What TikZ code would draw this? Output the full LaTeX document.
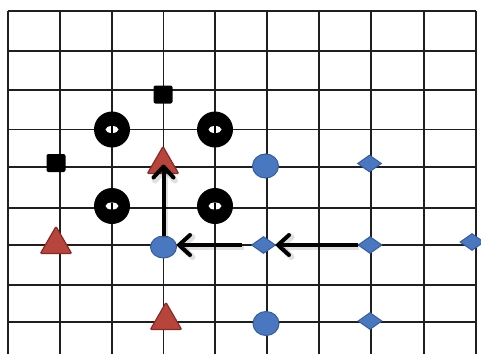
\documentclass[tikz,border=0pt]{standalone}
\usetikzlibrary{shapes.geometric,arrows.meta}
\definecolor{tri}{RGB}{184,69,60}
\definecolor{triedge}{RGB}{135,42,38}
\definecolor{blu}{RGB}{74,120,192}
\definecolor{bluedge}{RGB}{52,92,158}
\begin{document}
\begin{tikzpicture}[x=1pt,y=-1pt,
  gridline/.style={line width=1.8pt, black!88},
  sq/.style={fill=black, rounded corners=2pt, minimum width=19pt, minimum height=18pt, inner sep=0pt},
  ring/.style={circle, fill=black, minimum size=36pt, inner sep=0pt},
  hole/.style={ellipse, fill=white, minimum width=13pt, minimum height=7pt, inner sep=0pt},
  tria/.style={regular polygon, regular polygon sides=3, fill=tri, draw=triedge, line width=1.2pt, minimum size=36pt, inner sep=0pt, rounded corners=1pt},
  bcirc/.style={ellipse, fill=blu, draw=bluedge, line width=1pt, minimum width=26pt, minimum height=22pt, inner sep=0pt},
  bdia/.style={diamond, fill=blu, draw=bluedge, line width=1pt, minimum width=24pt, minimum height=17pt, inner sep=0pt},
  arr/.style={line width=4pt, black, -{Straight Barb[length=11pt,width=20pt,round]}},
  arrshadow/.style={line width=6pt, black, opacity=0.12, -{Straight Barb[length=11pt,width=20pt,round]}}
]
\useasboundingbox (0,0) rectangle (481,354);
\fill[white] (0,0) rectangle (481,354);
% grid
\foreach \x in {8,60,112,163.5,215,267,319,371,424,476}
  \draw[gridline] (\x,11) -- (\x,354);
\foreach \y in {11,51,90,129.5,167,208,245,285,322}
  \draw[gridline] (8,\y) -- (476,\y);
% squares
\node[sq] (s1) at (163,94.5) {};
\node[sq] (s2) at (56,163) {};
% rings
\foreach \n/\p in {r1/{(112,129.5)}, r2/{(215,129.5)}, r3/{(112,206)}, r4/{(215,206)}}{
  \node[ring] (\n) at \p {};
  \node[hole] (\n h) at (\n) {};
  \fill[black] ([xshift=-1pt,yshift=3.5pt]\n.center) rectangle ([xshift=1pt,yshift=-3.5pt]\n.center);
}
% triangles
\node[tria] (t1) at (163,164.5) {};
\node[tria] (t2) at (56,244.5) {};
\node[tria] (t3) at (166,320.5) {};
% blue circles
\node[bcirc] (c1) at (163.5,247) {};
\node[bcirc, minimum height=24pt] (c2) at (265.5,166) {};
\node[bcirc, minimum height=24pt] (c3) at (266,323.5) {};
% blue diamonds
\node[bdia] (d1) at (369.5,163.5) {};
\node[bdia] (d2) at (263.5,245) {};
\node[bdia] (d3) at (370,245) {};
\node[bdia] (d4) at (370,321) {};
\node[bdia] (d5) at (472,242) {};
% arrow shadows
\draw[arrshadow, transform canvas={shift={(1.5pt,-2pt)}}] (d3.west) -- (d2.east);
\draw[arrshadow, shorten <=9pt, transform canvas={shift={(1.5pt,-2pt)}}] (d2.west) -- (c1.east |- d2.west);
\draw[arrshadow, transform canvas={shift={(1.5pt,-2pt)}}] (c1.north) -- (c1.north |- t1.center);
% arrows
\draw[arr] (d3.west) -- (d2.east);
\draw[arr, shorten <=9pt] (d2.west) -- (c1.east |- d2.west);
\draw[arr] (c1.north) -- (c1.north |- t1.center);
\end{tikzpicture}
\end{document}
